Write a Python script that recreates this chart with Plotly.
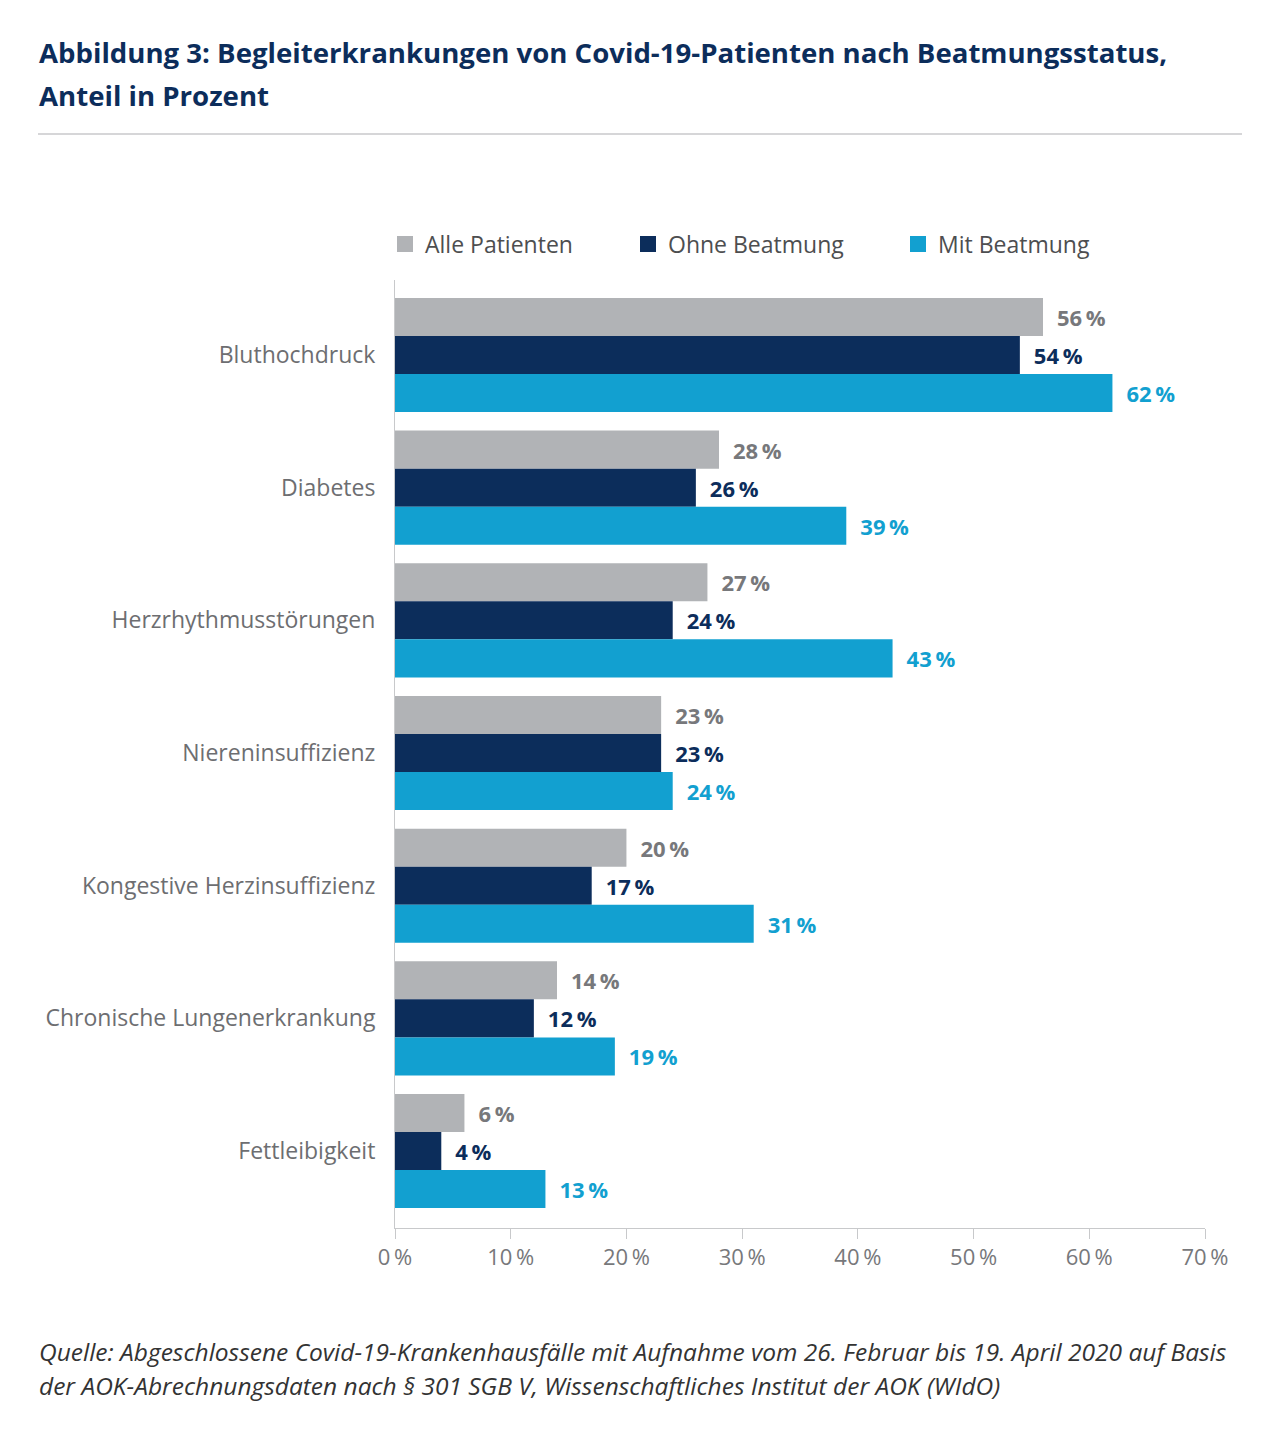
import plotly.graph_objects as go

# Werte aus der Abbildung (Anteil in Prozent)
kategorien = ["Bluthochdruck", "Diabetes", "Herzrhythmusstörungen", "Niereninsuffizienz",
              "Kongestive Herzinsuffizienz", "Chronische Lungenerkrankung", "Fettleibigkeit"]
alle_patienten = [56, 28, 27, 23, 20, 14, 6]
ohne_beatmung = [54, 26, 24, 23, 17, 12, 4]
mit_beatmung = [62, 39, 43, 24, 31, 19, 13]
tick_werte = [0, 10, 20, 30, 40, 50, 60, 70]
tick_texte = [f"{v}\u2009%" for v in tick_werte]

FONT = "Open Sans"
GRAU = "#b1b3b6"
NAVY = "#0c2d5b"
CYAN = "#12a0d0"

OFF = 8  # Seitenrand des Browsers
W, H = 1264, 1425
L, T = 395 - OFF, 280 - OFF
R = W - (1205 - OFF)
B = H - (1228 - OFF)
pw = W - L - R
ph = H - T - B


def px_x(p):
    return (p - OFF - L) / pw


def px_y(p):
    return (H - B - (p - OFF)) / ph


fig = go.Figure()
serien = [("Alle Patienten", alle_patienten, GRAU, "#77787b", "legend", 385),
          ("Ohne Beatmung", ohne_beatmung, NAVY, NAVY, "legend2", 628),
          ("Mit Beatmung", mit_beatmung, CYAN, CYAN, "legend3", 898)]
for name, vals, col, tcol, leg, _ in serien:
    fig.add_trace(go.Bar(
        y=kategorien, x=vals, name=name, orientation="h",
        marker=dict(color=col, line=dict(width=0)),
        text=[f"\u2002<b>{v}\u2009%</b>" for v in vals],
        textposition="outside",
        textfont=dict(family=FONT, size=22, color=tcol),
        cliponaxis=False, showlegend=False,
    ))
    # Legendeneintrag mit größerem Quadrat
    fig.add_trace(go.Scatter(
        x=[None], y=[None], mode="markers", name=name, legend=leg,
        marker=dict(symbol="square", size=19, color=col),
    ))

leg_stil = dict(orientation="h", xanchor="left", y=px_y(244), yanchor="middle",
                font=dict(family=FONT, size=23, color="#4d4e50"), itemwidth=30,
                bgcolor="rgba(0,0,0,0)")
legenden = {leg: dict(leg_stil, x=px_x(xpos)) for _, _, _, _, leg, xpos in serien}

fig.update_layout(
    width=W, height=H,
    margin=dict(l=L, r=R, t=T, b=B),
    paper_bgcolor="white", plot_bgcolor="white",
    barmode="group", bargap=0.14, bargroupgap=0,
    font=dict(family=FONT, size=22, color="#6d6e71"),
    **legenden,
    xaxis=dict(
        range=[0, 70], tickvals=tick_werte, ticktext=tick_texte,
        showgrid=False, zeroline=False,
        showline=True, linecolor="#c8c9cb", linewidth=1,
        ticks="outside", ticklen=10, tickcolor="#c8c9cb",
        tickfont=dict(family=FONT, size=22, color="#77787b"),
    ),
    yaxis=dict(
        categoryorder="array", categoryarray=kategorien,
        range=[6.58, -0.565],
        showgrid=False, zeroline=False,
        showline=True, linecolor="#c8c9cb", linewidth=1,
        ticks="", ticklabelstandoff=14,
        tickfont=dict(family=FONT, size=23, color="#6d6e71"),
    ),
)

# Titel (zwei Zeilen)
for zeile, ypos in [("Abbildung 3: Begleiterkrankungen von Covid-19-Patienten nach Beatmungsstatus,", 52),
                    ("Anteil in Prozent", 95)]:
    fig.add_annotation(
        xref="paper", yref="paper", x=px_x(37), y=px_y(ypos), xanchor="left", yanchor="middle",
        showarrow=False, text=f"<b>{zeile}</b>",
        font=dict(family=FONT, size=27.6, color=NAVY),
    )

# Trennlinie unter dem Titel
fig.add_shape(type="line", xref="paper", yref="paper",
              x0=px_x(38), x1=px_x(1242), y0=px_y(134), y1=px_y(134),
              line=dict(color="#c8c9cb", width=1.5))

# Quelle
for zeile, ypos in [("Quelle: Abgeschlossene Covid-19-Krankenhausfälle mit Aufnahme vom 26. Februar bis 19. April 2020 auf Basis", 1351),
                    ("der AOK-Abrechnungsdaten nach § 301 SGB V, Wissenschaftliches Institut der AOK (WIdO)", 1385)]:
    fig.add_annotation(
        xref="paper", yref="paper", x=px_x(37), y=px_y(ypos), xanchor="left", yanchor="middle",
        showarrow=False, text=f"<i>{zeile}</i>",
        font=dict(family=FONT, size=24.5, color="#333333"),
    )

fig.write_html("out.html")
